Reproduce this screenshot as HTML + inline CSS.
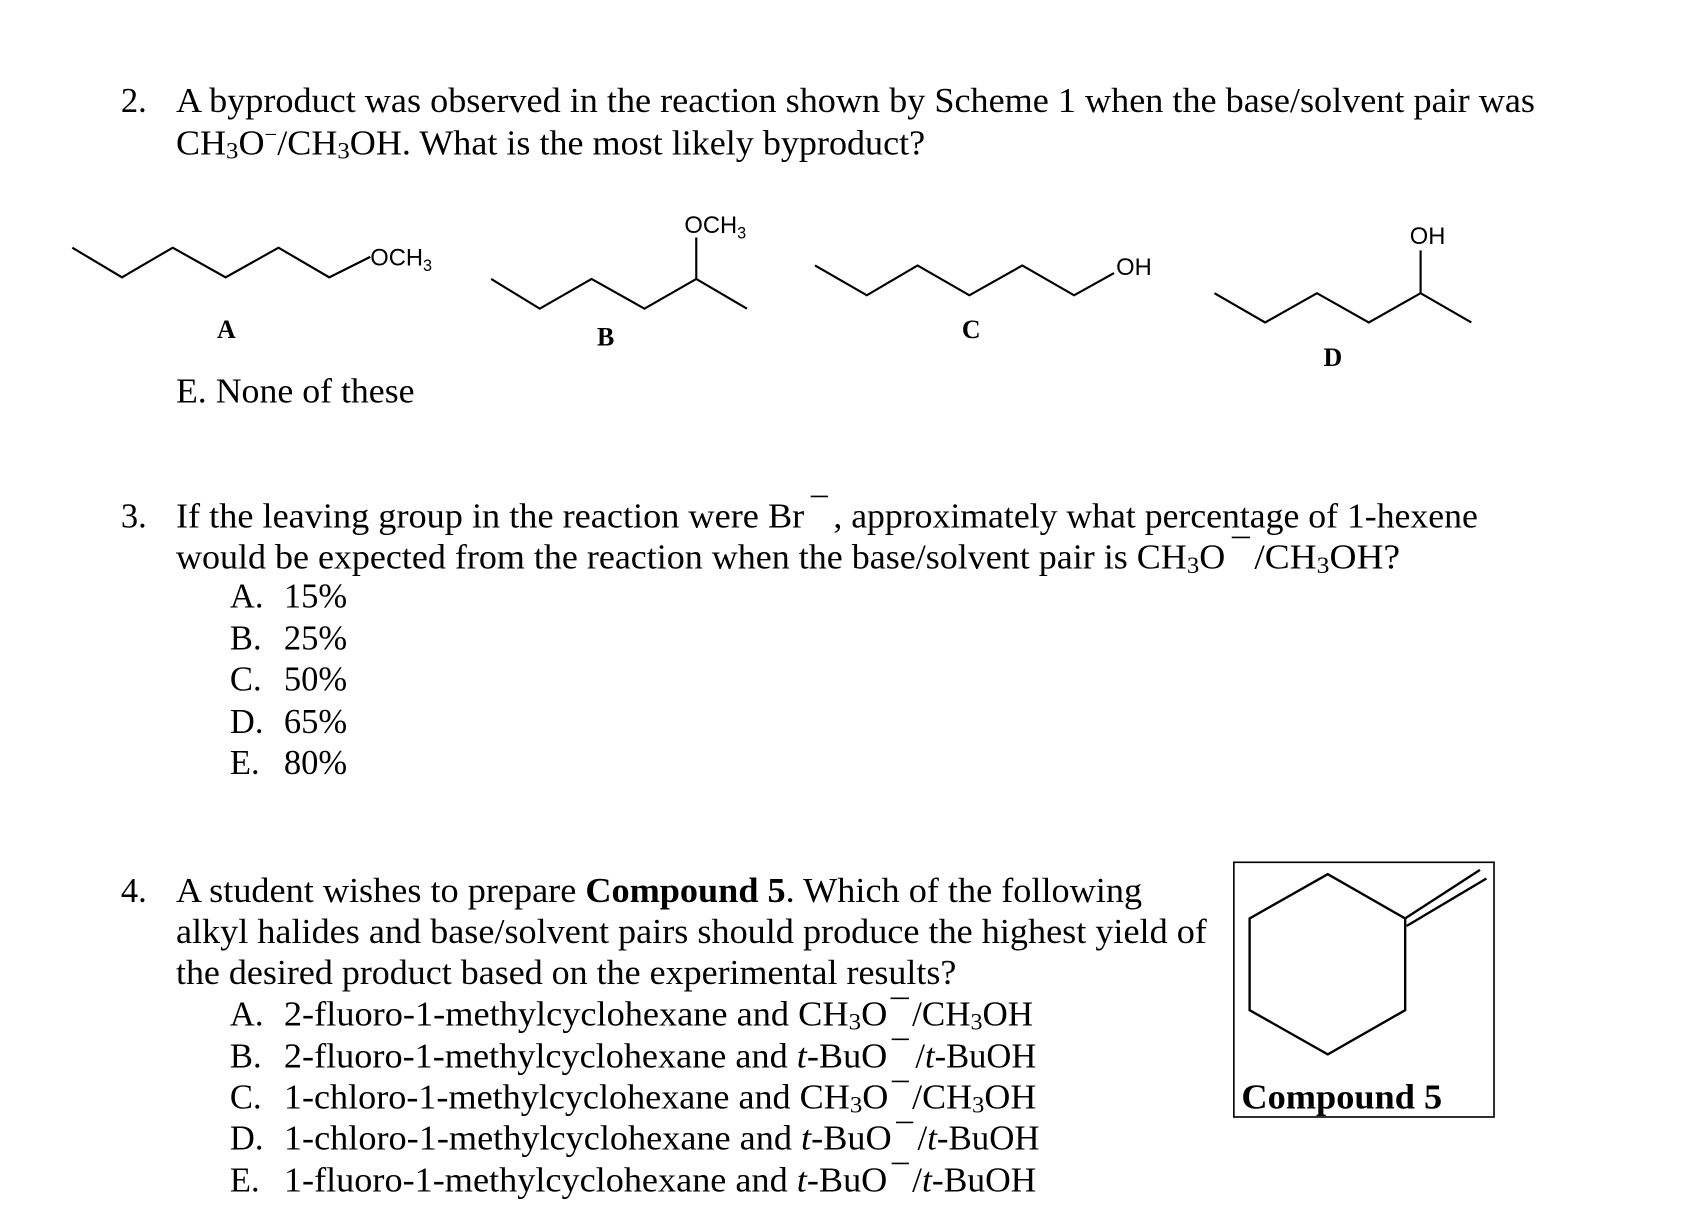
<!DOCTYPE html>
<html><head><meta charset="utf-8"><style>
html,body{margin:0;padding:0;background:#fff;}
svg{display:block;}
.t{font-family:"Liberation Serif",serif;font-size:32px;fill:#000;}
.s{font-family:"Liberation Sans",sans-serif;font-size:22px;fill:#000;}
.b{font-family:"Liberation Serif",serif;font-weight:bold;font-size:24px;fill:#000;}
</style></head><body>
<svg width="1684" height="1226" viewBox="0 0 1560 1136" preserveAspectRatio="none" xmlns="http://www.w3.org/2000/svg">
<g stroke="#000" stroke-width="2" fill="none">
<polyline points="67,229.5 113,257 160,229.5 209,257 258,229.5 305,257 343,238"/>
<polyline points="455,258.5 500,286 548,258.5 597,286 645,258.5 692,286"/>
<line x1="645" y1="258.5" x2="645" y2="220"/>
<polyline points="755,246 803,273.6 850,246 898,273.6 947,246 995,273.6 1032,253"/>
<polyline points="1125,271.7 1172,298.8 1220,271.7 1268,298.8 1316,271.7 1363,298.8"/>
<line x1="1316" y1="271.7" x2="1316" y2="232"/>
<rect x="1143" y="799" width="241" height="236" stroke-width="1.5"/>
<polygon points="1230,810 1301.7,851 1301.7,936 1230,977 1157.6,936 1157.6,851" stroke-width="2.2"/>
<line x1="1301.7" y1="851" x2="1371" y2="806" stroke-width="2.2"/>
<line x1="1303" y1="858" x2="1377" y2="814" stroke-width="2.2"/>
<g stroke-width="1.5">
<line x1="751" y1="460" x2="767" y2="460"/>
<line x1="1141" y1="498" x2="1158" y2="498"/>
<line x1="825" y1="925" x2="842" y2="925"/>
<line x1="826" y1="963" x2="842" y2="963"/>
<line x1="826" y1="1002" x2="842" y2="1002"/>
<line x1="830" y1="1040" x2="846" y2="1040"/>
<line x1="826" y1="1078" x2="842" y2="1078"/>
</g>
</g>
<text class="s" x="343" y="246">OCH<tspan font-size="15" dy="5">3</tspan></text>
<text class="s" x="634" y="216">OCH<tspan font-size="15" dy="5">3</tspan></text>
<text class="s" x="1034" y="255">OH</text>
<text class="s" x="1306" y="226">OH</text>
<text class="b" x="201" y="313">A</text>
<text class="b" x="553" y="320">B</text>
<text class="b" x="891" y="313">C</text>
<text class="b" x="1226" y="339">D</text>

<text class="t" x="112" y="104">2.</text>
<text class="t" x="163" y="104" textLength="1259" lengthAdjust="spacingAndGlyphs">A byproduct was observed in the reaction shown by Scheme 1 when the base/solvent pair was</text>
<text class="t" x="163" y="143" textLength="694" lengthAdjust="spacingAndGlyphs">CH<tspan font-size="22" dy="4">3</tspan><tspan dy="-4">O</tspan><tspan font-size="20" dy="-12">−</tspan><tspan dy="12">/CH</tspan><tspan font-size="22" dy="4">3</tspan><tspan dy="-4">OH. What is the most likely byproduct?</tspan></text>
<text class="t" x="163" y="373" textLength="221" lengthAdjust="spacingAndGlyphs">E. None of these</text>

<text class="t" x="112" y="489">3.</text>
<text class="t" x="163" y="489" textLength="582" lengthAdjust="spacingAndGlyphs">If the leaving group in the reaction were Br</text>
<text class="t" x="772" y="489" textLength="597" lengthAdjust="spacingAndGlyphs">, approximately what percentage of 1-hexene</text>
<text class="t" x="163" y="527" textLength="972" lengthAdjust="spacingAndGlyphs">would be expected from the reaction when the base/solvent pair is CH<tspan font-size="22" dy="4">3</tspan><tspan dy="-4">O</tspan></text>
<text class="t" x="1162" y="527" textLength="135" lengthAdjust="spacingAndGlyphs">/CH<tspan font-size="22" dy="4">3</tspan><tspan dy="-4">OH?</tspan></text>
<text class="t" x="213" y="563">A.</text><text class="t" x="263" y="563">15%</text>
<text class="t" x="213" y="602">B.</text><text class="t" x="263" y="602">25%</text>
<text class="t" x="213" y="640">C.</text><text class="t" x="263" y="640">50%</text>
<text class="t" x="213" y="679">D.</text><text class="t" x="263" y="679">65%</text>
<text class="t" x="213" y="717">E.</text><text class="t" x="263" y="717">80%</text>

<text class="t" x="112" y="836">4.</text>
<text class="t" x="163" y="836" textLength="895" lengthAdjust="spacingAndGlyphs">A student wishes to prepare <tspan font-weight="bold">Compound 5</tspan>. Which of the following</text>
<text class="t" x="163" y="874" textLength="955" lengthAdjust="spacingAndGlyphs">alkyl halides and base/solvent pairs should produce the highest yield of</text>
<text class="t" x="163" y="912" textLength="723" lengthAdjust="spacingAndGlyphs">the desired product based on the experimental results?</text>

<text class="t" x="213" y="950">A.</text>
<text class="t" x="263" y="950" textLength="559" lengthAdjust="spacingAndGlyphs">2-fluoro-1-methylcyclohexane and CH<tspan font-size="22" dy="4">3</tspan><tspan dy="-4">O</tspan></text>
<text class="t" x="845" y="950" textLength="112" lengthAdjust="spacingAndGlyphs">/CH<tspan font-size="22" dy="4">3</tspan><tspan dy="-4">OH</tspan></text>
<text class="t" x="213" y="989">B.</text>
<text class="t" x="263" y="989" textLength="559" lengthAdjust="spacingAndGlyphs">2-fluoro-1-methylcyclohexane and <tspan font-style="italic">t</tspan>-BuO</text>
<text class="t" x="848" y="989" textLength="112" lengthAdjust="spacingAndGlyphs">/<tspan font-style="italic">t</tspan>-BuOH</text>
<text class="t" x="213" y="1027">C.</text>
<text class="t" x="263" y="1027" textLength="560" lengthAdjust="spacingAndGlyphs">1-chloro-1-methylcyclohexane and CH<tspan font-size="22" dy="4">3</tspan><tspan dy="-4">O</tspan></text>
<text class="t" x="845" y="1027" textLength="115" lengthAdjust="spacingAndGlyphs">/CH<tspan font-size="22" dy="4">3</tspan><tspan dy="-4">OH</tspan></text>
<text class="t" x="213" y="1065">D.</text>
<text class="t" x="263" y="1065" textLength="563" lengthAdjust="spacingAndGlyphs">1-chloro-1-methylcyclohexane and <tspan font-style="italic">t</tspan>-BuO</text>
<text class="t" x="850" y="1065" textLength="113" lengthAdjust="spacingAndGlyphs">/<tspan font-style="italic">t</tspan>-BuOH</text>
<text class="t" x="213" y="1104">E.</text>
<text class="t" x="263" y="1104" textLength="559" lengthAdjust="spacingAndGlyphs">1-fluoro-1-methylcyclohexane and <tspan font-style="italic">t</tspan>-BuO</text>
<text class="t" x="845" y="1104" textLength="115" lengthAdjust="spacingAndGlyphs">/<tspan font-style="italic">t</tspan>-BuOH</text>

<text class="t" x="1150" y="1027" font-weight="bold" textLength="186" lengthAdjust="spacingAndGlyphs">Compound 5</text>
</svg>
</body></html>
